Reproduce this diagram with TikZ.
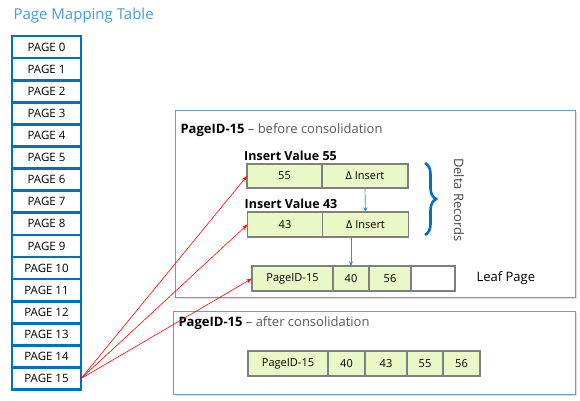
\documentclass[tikz,border=0pt]{standalone}
\usepackage{fontspec}
\setmainfont{Open Sans}
\usetikzlibrary{positioning,arrows.meta,decorations.pathreplacing}
\definecolor{pageblue}{HTML}{0070C0}
\definecolor{framecol}{HTML}{6A9BD8}
\definecolor{cellfill}{HTML}{EAF7C6}
\definecolor{cellline}{HTML}{7F7F7F}
\definecolor{titleblue}{HTML}{4A9AD8}
\definecolor{textgray}{HTML}{595959}
\definecolor{linkblue}{HTML}{4A86C8}

\begin{document}
\begin{tikzpicture}[x=1pt,y=-1pt,
	pagecell/.style={draw=pageblue, line width=2.7pt, fill=white, minimum width=69pt, minimum height=22.1pt, inner sep=0pt, outer sep=0pt, font=\fontsize{11.5}{13}\selectfont},
	cell/.style={draw=cellline, line width=1.8pt, fill=cellfill, minimum height=24.5pt, inner sep=0pt, outer sep=0pt, font=\fontsize{11}{13}\selectfont},
	frame/.style={draw=framecol, line width=0.9pt, fill=white},
	pointer/.style={red, line width=0.6pt, -{Stealth[length=6pt, width=4pt]}},
	chain/.style={linkblue, line width=0.7pt, -{Stealth[length=5pt, width=4pt]}}]
				\useasboundingbox (0,0) rectangle (580,400);
				%page mapping table
				\node[anchor=west, text=titleblue, font=\fontsize{15}{17}\selectfont] (title) at (10,16) {Page Mapping Table};
				\foreach \i in {0,...,15}
					\node[pagecell] (p\i) at (46.5,{47.05+22.1*\i}) {PAGE \i};
				%frames
				\fill[gray!25] (177,112) rectangle (577,299);
				\draw[frame] (175,110) rectangle (575,297);
				\fill[gray!25] (175,313) rectangle (577,396);
				\draw[frame] (173,311) rectangle (575,394);
				\node[anchor=west, font=\fontsize{13}{15}\selectfont] (before) at (177,130) {\textbf{PageID-15} \textcolor{textgray}{– before consolidation}};
				\node[anchor=west, font=\fontsize{13}{15}\selectfont] (after) at (175,323) {\textbf{PageID-15} \textcolor{textgray}{– after consolidation}};
				%delta records
				\node[cell, minimum width=75pt] (v55) at (284.5,176) {55};
				\node[cell, minimum width=86pt, right=0pt of v55] (d55) {Δ Insert};
				\node[anchor=south west, font=\bfseries\fontsize{12.5}{14}\selectfont, inner sep=1pt] (ins55) at ([xshift=-4pt,yshift=2pt]v55.north west) {Insert Value 55};
				\node[cell, minimum width=75pt] (v43) at (285,224.5) {43};
				\node[cell, minimum width=86pt, right=0pt of v43] (d43) {Δ Insert};
				\node[anchor=south west, font=\bfseries\fontsize{12.5}{14}\selectfont, inner sep=1pt] (ins43) at ([xshift=-4pt,yshift=2pt]v43.north west) {Insert Value 43};
				\draw[chain] (d55.south) -- (d43.north);
				\draw[pageblue, line width=2.6pt, decorate, decoration={brace, amplitude=11pt}] (425,163) -- (425,235);
				\node[rotate=-90, text=textgray!80!black, font=\fontsize{13}{15}\selectfont] (delta) at (459,200) {Delta Records};
				%leaf page
				\node[cell, minimum width=81pt] (l15) at (292.5,278.5) {PageID-15};
				\node[cell, minimum width=36pt, right=0pt of l15] (l40) {40};
				\node[cell, minimum width=42pt, right=0pt of l40] (l56) {56};
				\node[cell, minimum width=44pt, fill=white, right=0pt of l56] (lfree) {};
				\node[anchor=west, font=\fontsize{13}{15}\selectfont] (leaf) at (473,278.5) {Leaf Page};
				\draw[chain] (l40.north |- d43.south) -- (l40.north);
				%consolidated page
				\node[cell, minimum width=80pt] (a15) at (288,363.5) {PageID-15};
				\node[cell, minimum width=37pt, right=0pt of a15] (a40) {40};
				\node[cell, minimum width=42pt, right=0pt of a40] (a43) {43};
				\node[cell, minimum width=36pt, right=0pt of a43] (a55) {55};
				\node[cell, minimum width=37pt, right=0pt of a55] (a56) {56};
				%pointers from page 15
				\draw[pointer] (p15.east) -- (v55.west);
				\draw[pointer] (p15.east) -- (v43.west);
				\draw[pointer] (p15.east) -- (l15.west);
			\end{tikzpicture}
\end{document}
